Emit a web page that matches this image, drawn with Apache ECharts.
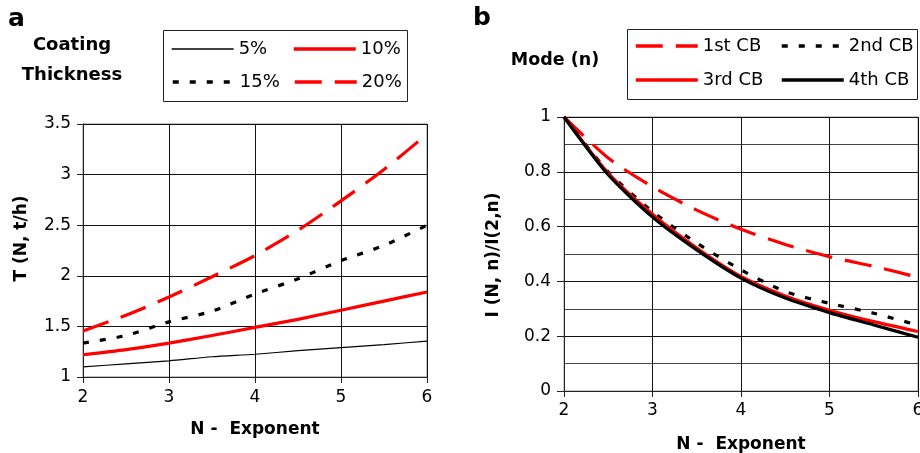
<!DOCTYPE html>
<html><head><meta charset="utf-8">
<script src="https://cdn.jsdelivr.net/npm/echarts@6/dist/echarts.min.js"></script>
<style>html,body{margin:0;padding:0;background:#fff}#c{width:920px;height:453px}</style>
</head><body><div id="c"></div>
<script>
// ---- data ----
const N = [2, 2.5, 3, 3.5, 4, 4.5, 5, 5.5, 6];
const xTicks = [2, 3, 4, 5, 6];
// panel a: coating thickness
const t5  = [1.10, 1.13, 1.16, 1.20, 1.225, 1.26, 1.29, 1.32, 1.355];
const t10 = [1.22, 1.27, 1.335, 1.41, 1.49, 1.57, 1.66, 1.75, 1.84];
const t15 = [1.335, 1.41, 1.545, 1.65, 1.82, 1.97, 2.15, 2.30, 2.50];
const t20 = [1.455, 1.61, 1.79, 1.99, 2.20, 2.45, 2.74, 3.05, 3.40];
// panel b: modes
const cb1 = [1, 0.85, 0.745, 0.66, 0.59, 0.535, 0.49, 0.455, 0.415];
const cb2 = [1, 0.80, 0.655, 0.54, 0.442, 0.363, 0.32, 0.284, 0.24];
const cb3 = [1, 0.795, 0.645, 0.522, 0.418, 0.347, 0.295, 0.253, 0.217];
const cb4 = [1, 0.789, 0.635, 0.515, 0.412, 0.339, 0.286, 0.241, 0.196];
const namesA = ['5%', '10%', '15%', '20%'];
const namesB = ['1st CB', '2nd CB', '3rd CB', '4th CB'];
const yTicksA = [1, 1.5, 2, 2.5, 3, 3.5];
const yTicksB = [0, 0.2, 0.4, 0.6, 0.8, 1];

const FONT = '"DejaVu Sans", sans-serif';
const pairs = (ys) => N.map((x, i) => [x, ys[i]]);

function xAxisCfg(gi, gap, margin) {
  return {
    type: 'value', gridIndex: gi, min: xTicks[0], max: xTicks[xTicks.length - 1], interval: 1,
    name: 'N -  Exponent', nameLocation: 'middle', nameGap: gap,
    nameTextStyle: { fontFamily: FONT, fontSize: 17, fontWeight: 'bold', color: '#000' },
    axisLine: { show: true, onZero: false, lineStyle: { color: '#222', width: 1 } },
    axisTick: { show: true, length: 6, lineStyle: { color: '#222' } },
    axisLabel: { fontFamily: FONT, fontSize: 17, color: '#000', margin: margin },
    splitLine: { show: true, lineStyle: { color: '#111', width: 1 } }
  };
}

function ser(name, xi, data, color, width, type) {
  return {
    name: name, type: 'line', xAxisIndex: xi, yAxisIndex: xi, data: pairs(data),
    symbol: 'none', smooth: 0.25, animation: false,
    lineStyle: { color: color, width: width, type: type },
    itemStyle: { color: color }
  };
}

function leg(name, left, cy, w) {
  return {
    data: [name], left: left, top: cy - 10, padding: 0, itemGap: 0,
    itemWidth: 62, itemHeight: 14, selectedMode: false,
    itemStyle: { color: 'rgba(0,0,0,0)', borderWidth: 0, opacity: 0 },
    lineStyle: { width: w },
    textStyle: { fontFamily: FONT, fontSize: 18, color: '#000', padding: [0, 0, 0, 0], lineHeight: 20 }
  };
}

const option = {
  animation: false,
  backgroundColor: '#fff',
  grid: [
    { left: 83, top: 124, width: 344, height: 253, show: true, borderColor: '#888', borderWidth: 1, outerBoundsMode: 'none', containLabel: false },
    { left: 564, top: 117, width: 354, height: 274, show: true, borderColor: '#999', borderWidth: 1, outerBoundsMode: 'none', containLabel: false }
  ],
  xAxis: [xAxisCfg(0, 44, 12), xAxisCfg(1, 45, 11)],
  yAxis: [
    {
      type: 'value', gridIndex: 0, min: yTicksA[0], max: yTicksA[yTicksA.length - 1], interval: 0.5,
      axisLine: { show: true, lineStyle: { color: '#222' } },
      axisTick: { show: true, length: 6, lineStyle: { color: '#222' } },
      axisLabel: { fontFamily: FONT, fontSize: 17, color: '#000', margin: 12 },
      splitLine: { show: true, lineStyle: { color: '#111', width: 1 } }
    },
    {
      type: 'value', gridIndex: 1, min: yTicksB[0], max: yTicksB[yTicksB.length - 1], interval: 0.2,
      axisLine: { show: true, lineStyle: { color: '#222' } },
      axisTick: { show: true, length: 7, lineStyle: { color: '#222' } },
      axisLabel: { fontFamily: FONT, fontSize: 17, color: '#000', margin: 13 },
      splitLine: { show: true, lineStyle: { color: '#111', width: 1 } },
      minorTick: { show: false, splitNumber: 2 },
      minorSplitLine: { show: true, lineStyle: { color: '#444', width: 1 } }
    }
  ],
  legend: [
    leg(namesA[0], 171, 49, 1.3), leg(namesA[1], 292, 49, 3.5),
    leg(namesA[2], 171, 82, 3.5), leg(namesA[3], 293, 82, 3.5),
    leg(namesB[0], 634, 46, 3.5), leg(namesB[1], 780, 46, 3.5),
    leg(namesB[2], 634, 80, 3.5), leg(namesB[3], 780, 80, 3.5)
  ],
  series: [
    ser(namesA[0], 0, t5, '#000', 1.2, 'solid'),
    ser(namesA[1], 0, t10, '#ff0000', 3.2, 'solid'),
    ser(namesA[2], 0, t15, '#000', 3.2, [6, 11]),
    ser(namesA[3], 0, t20, '#ff0000', 3.2, [27, 13]),
    ser(namesB[0], 1, cb1, '#ff0000', 3.2, [27, 13]),
    ser(namesB[1], 1, cb2, '#000', 3.2, [6, 11]),
    ser(namesB[2], 1, cb3, '#ff0000', 3.2, 'solid'),
    ser(namesB[3], 1, cb4, '#000', 3.2, 'solid')
  ],
  graphic: [
    { type: 'rect', shape: { x: 163.5, y: 30.5, width: 244, height: 71 }, style: { fill: 'none', stroke: '#222', lineWidth: 1 }, z: 0 },
    { type: 'rect', shape: { x: 627.5, y: 29.5, width: 290, height: 70 }, style: { fill: 'none', stroke: '#222', lineWidth: 1 }, z: 0 },
    { type: 'text', x: 8, y: 19, style: { text: 'a', fontFamily: FONT, fontSize: 25, fontWeight: 'bold', fill: '#000', verticalAlign: 'middle' } },
    { type: 'text', x: 473, y: 18, style: { text: 'b', fontFamily: FONT, fontSize: 25, fontWeight: 'bold', fill: '#000', verticalAlign: 'middle' } },
    { type: 'text', x: 72, y: 45.5, style: { text: 'Coating', fontFamily: FONT, fontSize: 18, fontWeight: 'bold', fill: '#000', align: 'center', verticalAlign: 'middle' } },
    { type: 'text', x: 72, y: 75, style: { text: 'Thickness', fontFamily: FONT, fontSize: 18, fontWeight: 'bold', fill: '#000', align: 'center', verticalAlign: 'middle' } },
    { type: 'text', x: 555, y: 60.5, style: { text: 'Mode (n)', fontFamily: FONT, fontSize: 17.5, fontWeight: 'bold', fill: '#000', align: 'center', verticalAlign: 'middle' } },
    { type: 'text', x: 22, y: 238.5, rotation: Math.PI / 2, style: { text: 'T (N, t/h)', fontFamily: FONT, fontSize: 17, fontWeight: 'bold', fill: '#000', align: 'center', verticalAlign: 'middle' } },
    { type: 'text', x: 494, y: 255, rotation: Math.PI / 2, style: { text: 'I (N, n)/I(2,n)', fontFamily: FONT, fontSize: 17, fontWeight: 'bold', fill: '#000', align: 'center', verticalAlign: 'middle' } }
  ]
};
const chart = echarts.init(document.getElementById('c'), null, { renderer: 'canvas' });
chart.setOption(option);
</script></body></html>
